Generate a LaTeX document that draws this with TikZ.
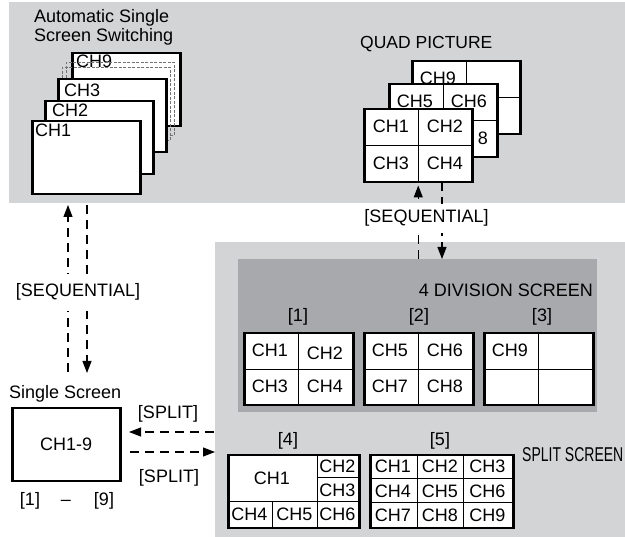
\documentclass[tikz,border=0pt]{standalone}
\usepackage{fontspec}
\setmainfont{Liberation Sans}
\usepackage{graphicx}
\usetikzlibrary{arrows.meta}
\definecolor{panelgray}{RGB}{211,212,213}
\definecolor{divgray}{RGB}{167,169,172}
\tikzset{
  txt/.style={inner sep=0pt, font=\fontsize{18}{20}\selectfont},
  screen/.style={draw=black, line width=2.5pt, fill=white, inner sep=0pt,
    minimum width=108pt, minimum height=73pt, anchor=north west},
  ghostframe/.style={draw=black!55, line width=0.7pt, dash pattern=on 3pt off 1.5pt,
    inner sep=0pt, minimum width=108pt, minimum height=73pt, anchor=north west},
  divline/.style={draw=black, line width=1pt},
  panel/.style={inner sep=0pt, anchor=north west},
  dasharrow/.style={line width=1.2pt, dash pattern=on 9pt off 6pt,
    -{Triangle[length=12pt,width=9pt]}},
  gaplabel/.style={txt, fill=white}
}
\begin{document}
\begin{tikzpicture}[x=1pt,y=-1pt]
\fill[white] (0,0) rectangle (625,537);
\useasboundingbox (0,0) rectangle (625,537);

% panels
\node[panel, fill=panelgray, minimum width=616pt, minimum height=201pt] (autopanel) at (9,2) {};
\node[panel, fill=panelgray, minimum width=410pt, minimum height=295pt] (splitpanel) at (215,242) {};
\node[panel, fill=divgray, minimum width=359pt, minimum height=153pt] (divpanel) at (238,259) {};

% automatic single screen switching
\node[txt, anchor=base west] (autotitle1) at (34,23) {Automatic Single};
\node[txt, anchor=base west] (autotitle2) at (34,42) {Screen Switching};
\node[screen] (s9) at (71,52) {};
\node[txt, anchor=base west] (s9l) at (76,68) {CH9};
\node[ghostframe] (g1) at (66,62) {};
\node[ghostframe] (g2) at (62,67) {};
\node[screen] (s3) at (57,78) {};
\node[txt, anchor=base west] (s3l) at (64,97) {CH3};
\node[screen] (s2) at (44,100) {};
\node[txt, anchor=base west] (s2l) at (52,117) {CH2};
\node[screen] (s1) at (31,120) {};
\node[txt, anchor=base west] (s1l) at (35,137) {CH1};

% quad picture
\node[inner sep=0pt, anchor=base west, font=\fontsize{17.5}{19}\selectfont] (quadtitle) at (360,49) {QUAD PICTURE};
\node[screen] (q9) at (411,60) {};
\draw[divline] (q9.north) -- (q9.south);
\draw[divline] (q9.west) -- (q9.east);
\node[txt] (q9a) at (438,78.5) {CH9};
\node[screen] (q5) at (388,83) {};
\draw[divline] (q5.north) -- (q5.south);
\draw[divline] (q5.west) -- (q5.east);
\node[txt] (q5a) at (415,101) {CH5};
\node[txt] (q5b) at (469,101) {CH6};
\node[txt] (q5d) at (483,138) {8};
\node[screen] (q1) at (363,108) {};
\draw[divline] (q1.north) -- (q1.south);
\draw[divline] (q1.west) -- (q1.east);
\node[txt] (q1a) at (391,126) {CH1};
\node[txt] (q1b) at (445,126) {CH2};
\node[txt] (q1c) at (391,163) {CH3};
\node[txt] (q1d) at (445,163) {CH4};

% 4 division screen
\node[txt, anchor=base east] (divtitle) at (593,297) {4 DIVISION SCREEN};
\node[txt, anchor=base] (d1l) at (298,322) {[1]};
\node[txt, anchor=base] (d2l) at (419,322) {[2]};
\node[txt, anchor=base] (d3l) at (542,322) {[3]};
\node[screen, minimum width=109pt, minimum height=72pt] (d1) at (243,332) {};
\draw[divline] (d1.north) -- (d1.south);
\draw[divline] (d1.west) -- (d1.east);
\node[txt] (d1a) at (270,350) {CH1};
\node[txt] (d1b) at (325,353) {CH2};
\node[txt] (d1c) at (270,386) {CH3};
\node[txt] (d1d) at (325,386) {CH4};
\node[screen, minimum width=109pt, minimum height=72pt] (d2) at (363,332) {};
\draw[divline] (d2.north) -- (d2.south);
\draw[divline] (d2.west) -- (d2.east);
\node[txt] (d2a) at (390,350) {CH5};
\node[txt] (d2b) at (445,350) {CH6};
\node[txt] (d2c) at (390,386) {CH7};
\node[txt] (d2d) at (445,386) {CH8};
\node[screen, minimum width=109pt, minimum height=72pt] (d3) at (483,332) {};
\draw[divline] (d3.north) -- (d3.south);
\draw[divline] (d3.west) -- (d3.east);
\node[txt] (d3a) at (510,350) {CH9};

% split screen
\node[txt, anchor=base] (b4l) at (288,446) {[4]};
\node[txt, anchor=base] (b5l) at (440,446) {[5]};
\node[inner sep=0pt, anchor=west, font=\fontsize{20}{22}\selectfont] (splittitle) at (522,455) {\scalebox{0.7}[1]{SPLIT SCREEN}};
\node[screen, minimum width=131pt, minimum height=73pt] (b4) at (227,454) {};
\draw[divline] (317,454) -- (317,527);
\draw[divline] (227,502) -- (358,502);
\draw[divline] (317,478) -- (358,478);
\draw[divline] (272,502) -- (272,527);
\node[txt] (b4a) at (272,478) {CH1};
\node[txt] (b4b) at (337.5,466) {CH2};
\node[txt] (b4c) at (337.5,490) {CH3};
\node[txt] (b4d) at (249.5,514.5) {CH4};
\node[txt] (b4e) at (294.5,514.5) {CH5};
\node[txt] (b4f) at (337.5,514.5) {CH6};
\node[screen, minimum width=143pt, minimum height=73pt] (b5) at (369,454) {};
\draw[divline] (417,454) -- (417,527);
\draw[divline] (463,454) -- (463,527);
\draw[divline] (369,479) -- (512,479);
\draw[divline] (369,503) -- (512,503);
\node[txt] (b5a) at (393,466.5) {CH1};
\node[txt] (b5b) at (440,466.5) {CH2};
\node[txt] (b5c) at (487.5,466.5) {CH3};
\node[txt] (b5d) at (393,491) {CH4};
\node[txt] (b5e) at (440,491) {CH5};
\node[txt] (b5f) at (487.5,491) {CH6};
\node[txt] (b5g) at (393,515) {CH7};
\node[txt] (b5h) at (440,515) {CH8};
\node[txt] (b5i) at (487.5,515) {CH9};

% single screen
\node[txt, anchor=base west] (singletitle) at (9,399) {Single Screen};
\node[screen, font=\fontsize{18}{20}\selectfont] (single) at (11,407) {CH1-9};
\node[txt, anchor=base] (r1) at (30,506) {[1]};
\node[txt, anchor=base] (rdash) at (66,506) {–};
\node[txt, anchor=base] (r9) at (104,506) {[9]};

% arrows
\coordinate (lupS) at (68,372);
\coordinate (lupE) at (68,205);
\coordinate (ldnS) at (87,205);
\coordinate (ldnE) at (87,373);
\draw[dasharrow] (lupS) -- (lupE);
\draw[dasharrow] (ldnS) -- (ldnE);
\node[gaplabel, anchor=base, inner xsep=2pt, inner ysep=10pt] (seqleft) at (78,297) {[SEQUENTIAL]};

\coordinate (tdnS) at (442,182);
\coordinate (tdnE) at (442,259);
\draw[dasharrow] (divpanel.north -| q1.south) -- ([yshift=-2pt]q1.south);
\draw[dasharrow] (tdnS) -- (tdnE);
\node[gaplabel, anchor=base, inner xsep=2pt, inner ysep=6pt] (seqtop) at (426.5,223) {[SEQUENTIAL]};

\coordinate (slS) at (214,432);
\coordinate (slE) at (129,432);
\coordinate (srS) at (130,452);
\coordinate (srE) at (215,452);
\draw[dasharrow] (slS) -- (slE);
\draw[dasharrow] (srS) -- (srE);
\node[txt, anchor=base] (splittop) at (168,419) {[SPLIT]};
\node[txt, anchor=base] (splitbot) at (169,483) {[SPLIT]};
\end{tikzpicture}
\end{document}
